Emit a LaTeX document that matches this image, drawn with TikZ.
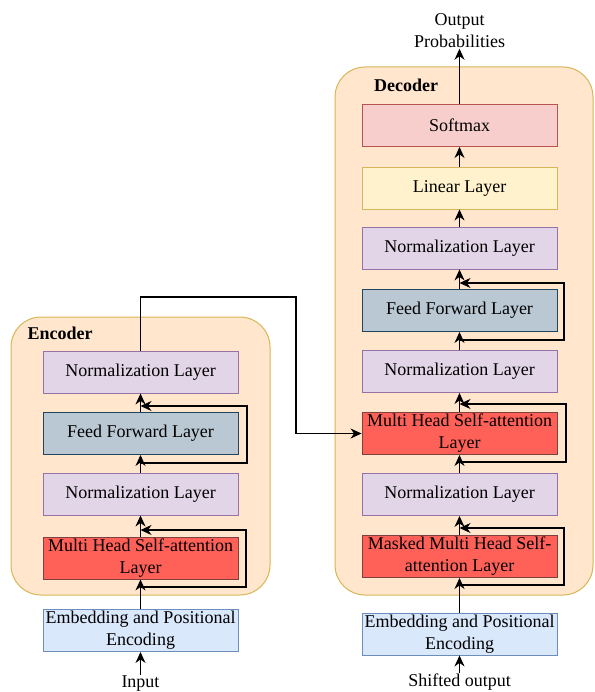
\documentclass[tikz,border=0pt]{standalone}
\usepackage{fontspec}
\setmainfont{Liberation Serif}
\usetikzlibrary{arrows.meta}
\definecolor{boxfill}{HTML}{FFE6CC}
\definecolor{boxline}{HTML}{D6B656}
\definecolor{normfill}{HTML}{E1D5E7}
\definecolor{normline}{HTML}{9673A6}
\definecolor{fffill}{HTML}{BAC8D3}
\definecolor{ffline}{HTML}{23445D}
\definecolor{attfill}{HTML}{FF6159}
\definecolor{attline}{HTML}{7F4040}
\definecolor{embfill}{HTML}{DAE8FC}
\definecolor{embline}{HTML}{6C8EBF}
\definecolor{smfill}{HTML}{F8CECC}
\definecolor{smline}{HTML}{B85450}
\definecolor{linfill}{HTML}{FFF2CC}
\definecolor{linline}{HTML}{D6B656}
\tikzset{
  layer/.style={draw, line width=0.9pt, minimum width=195pt, minimum height=42pt,
    inner sep=0pt, align=center, font=\fontsize{18}{22}\selectfont},
  norm/.style={layer, fill=normfill, draw=normline},
  ffbox/.style={layer, fill=fffill, draw=ffline},
  att/.style={layer, fill=attfill, draw=attline},
  emb/.style={layer, fill=embfill, draw=embline},
  smbox/.style={layer, fill=smfill, draw=smline},
  linbox/.style={layer, fill=linfill, draw=linline},
  stack/.style={draw=boxline, fill=boxfill, line width=1pt, rounded corners=30pt},
  lbl/.style={font=\fontsize{18}{22}\selectfont, align=center, inner sep=1pt},
  title/.style={font=\fontsize{18}{22}\selectfont\bfseries, inner sep=0pt},
  arr/.style={draw=black, line width=1.1pt, -{Stealth[length=11pt,width=10pt,inset=3.5pt]}},
}
\begin{document}
\begin{tikzpicture}[x=1pt,y=-1pt]
\useasboundingbox (0,0) rectangle (594,692);

% containers
\draw[stack] (11,317) rectangle (270,595);
\draw[stack] (335,67) rectangle (593,595);
\node[title] (enctitle) at (60,333) {Encoder};
\node[title] (dectitle) at (406,85) {Decoder};

% encoder stack
\node[norm]  (enorm2) at (140.5,372)   {Normalization Layer};
\node[ffbox] (eff)    at (140.5,433.5) {Feed Forward Layer};
\node[norm]  (enorm1) at (140.5,494)   {Normalization Layer};
\node[att]   (emha)   at (140.5,558)   {Multi Head Self-attention\\Layer};
\node[emb]   (eemb)   at (140.5,630.5) {Embedding and Positional\\Encoding};
\node[lbl]   (inp)    at (140.5,684)   {Input};

% decoder stack
\node[lbl]    (outp)   at (459.5,30.5)  {Output\\Probabilities};
\node[smbox]  (smax)   at (459.5,125.5) {Softmax};
\node[linbox] (lin)    at (459.5,188)   {Linear Layer};
\node[norm]   (dnorm3) at (459.5,248)   {Normalization Layer};
\node[ffbox]  (dff)    at (459.5,310.5) {Feed Forward Layer};
\node[norm]   (dnorm2) at (459.5,371.5) {Normalization Layer};
\node[att]    (dmha)   at (459.5,433.5) {Multi Head Self-attention\\Layer};
\node[norm]   (dnorm1) at (459.5,494.5) {Normalization Layer};
\node[att]    (dmmha)  at (459.5,556.5) {Masked Multi Head Self-\\attention Layer};
\node[emb]    (demb)   at (459.5,634)   {Embedding and Positional\\Encoding};
\node[lbl]    (shift)  at (459.5,682)   {Shifted output};

% encoder flow
\draw[arr] (inp.north) -- (eemb.south);
\draw[arr] (eemb.north) -- (emha.south);
\draw[arr] (emha.north) -- (enorm1.south);
\draw[arr] (enorm1.north) -- (eff.south);
\draw[arr] (eff.north) -- (enorm2.south);

% encoder residual paths
\coordinate (ea1) at (140.5,587);
\coordinate (ea2) at (140.5,530);
\draw[arr] (ea1) -- (246,587) |- (ea2);
\coordinate (ef1) at (140.5,463);
\coordinate (ef2) at (140.5,406);
\draw[arr] (ef1) -- (247,463) |- (ef2);

% encoder output into decoder attention
\coordinate (cr1) at (296,297);
\draw[arr] (enorm2.north) |- (cr1) |- (dmha.west);

% decoder flow
\draw[arr] (shift.north) -- (demb.south);
\draw[arr] (demb.north) -- (dmmha.south);
\draw[arr] (dmmha.north) -- (dnorm1.south);
\draw[arr] (dnorm1.north) -- (dmha.south);
\draw[arr] (dmha.north) -- (dnorm2.south);
\draw[arr] (dnorm2.north) -- (dff.south);
\draw[arr] (dff.north) -- (dnorm3.south);
\draw[arr] (dnorm3.north) -- (lin.south);
\draw[arr] (lin.north) -- (smax.south);
\draw[arr] (smax.north) -- (outp.south);

% decoder residual paths
\coordinate (dm1) at (459.5,585);
\coordinate (dm2) at (459.5,528);
\draw[arr] (dm1) -- (564,585) |- (dm2);
\coordinate (dh1) at (459.5,462);
\coordinate (dh2) at (459.5,404);
\draw[arr] (dh1) -- (566,462) |- (dh2);
\coordinate (df1) at (459.5,340);
\coordinate (df2) at (459.5,283);
\draw[arr] (df1) -- (564,340) |- (df2);
\end{tikzpicture}
\end{document}
